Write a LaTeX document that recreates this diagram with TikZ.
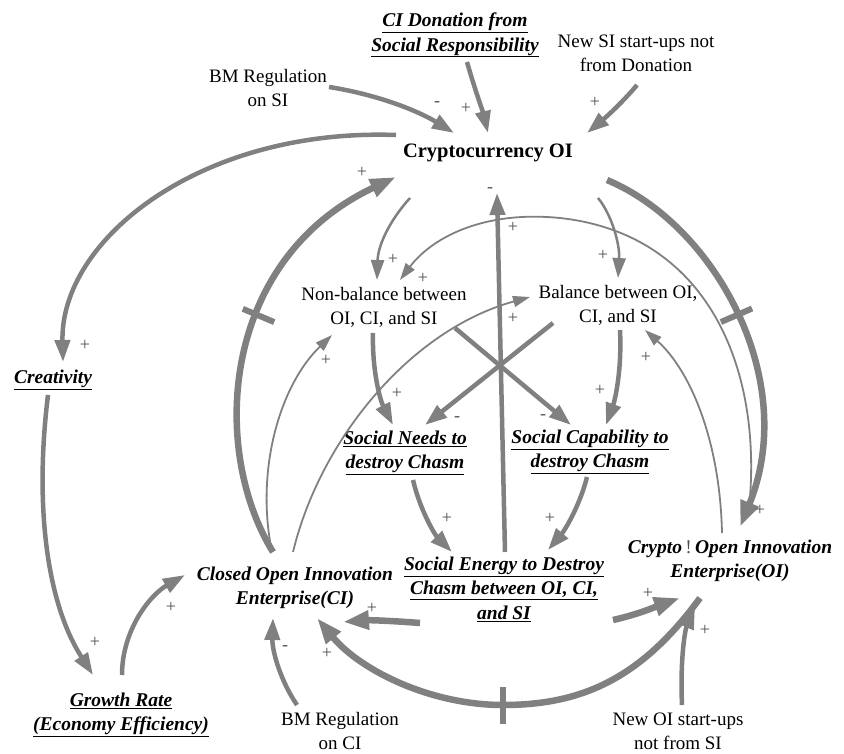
\documentclass[tikz,border=0pt]{standalone}
\usepackage{fontspec}
\setmainfont{Liberation Serif}
\usetikzlibrary{arrows.meta,calc}
\definecolor{ln}{RGB}{128,128,128}
\definecolor{lbl}{RGB}{80,80,80}
\newcommand\ulx[1]{\underline{#1}}
\begin{document}
\begin{tikzpicture}[x=1pt,y=-1pt,
 txt/.style={align=center,inner sep=0pt,text=black,font=\fontsize{19}{24}\selectfont},
 bi/.style={align=center,inner sep=0pt,text=black,font=\fontsize{19.5}{24.5}\selectfont\bfseries\itshape},
 sg/.style={font=\fontsize{18}{18}\selectfont,text=lbl,inner sep=0pt},
 con/.style={draw=ln,line cap=butt},
 thk/.style={con,line width=6.5pt,-{Triangle[length=26pt,width=18pt]}},
 med/.style={con,line width=4.5pt,-{Triangle[length=22pt,width=15pt]}},
 mth/.style={con,line width=2.5pt,-{Triangle[length=20pt,width=13pt]}},
 thn/.style={con,line width=1.8pt,-{Triangle[length=17pt,width=11pt]}},
 tick/.style={fill=ln,inner sep=0pt,minimum width=6pt,minimum height=34pt,sloped},
 tickv/.style={fill=ln,inner sep=0pt,minimum width=6pt,minimum height=37pt},
]
\useasboundingbox (0,0) rectangle (844,754);

% nodes
\node[bi] (cidon) at (455,35) {\ulx{CI Donation from}\\\ulx{Social Responsibility}};
\node[txt] (newsi) at (636,53) {New SI start-ups not\\from Donation};
\node[txt] (bmsi) at (268,88) {BM Regulation\\on SI};
\node[inner sep=0pt,font=\fontsize{20.5}{24}\selectfont\bfseries] (crypto) at (488,153) {Cryptocurrency OI};
\node[bi] (creat) at (53,380) {\ulx{Creativity}};
\node[txt] (nonbal) at (384,307) {Non-balance between\\OI, CI, and SI};
\node[txt] (bal) at (618,305) {Balance between OI,\\CI, and SI};
\node[bi] (sneeds) at (405,453) {\ulx{Social Needs to}\\\ulx{destroy Chasm}};
\node[bi] (scap) at (590,452) {\ulx{Social Capability to}\\\ulx{destroy Chasm}};
\node[bi] (senergy) at (504,589) {\ulx{Social Energy to Destroy}\\\ulx{Chasm between OI, CI,}\\\ulx{and SI}};
\node[bi] (closed) at (295,588) {Closed Open Innovation\\Enterprise(CI)};
\node[bi] (oient) at (730,561) {Crypto\,{\mdseries\upshape\color{lbl}!}\,Open Innovation\\Enterprise(OI)};
\node[bi] (growth) at (121,715) {\ulx{Growth Rate}\\\ulx{(Economy Efficiency)}};
\node[txt] (bmci) at (340,731) {BM Regulation\\on CI};
\node[txt] (newoi) at (678,731) {New OI start-ups\\not from SI};

% connectors
\draw[med] ($(bmsi)+(61,-1)$) .. controls (380,95) and (420,112) .. ($(crypto)+(-34,-20)$);
\draw[med] ($(cidon)+(12,27)$) .. controls (475,90) and (483,112) .. ($(crypto)+(0,-20)$);
\draw[med] ($(newsi)+(1,32)$) .. controls (622,103) and (605,118) .. ($(crypto)+(99,-20)$);
\draw[med] ($(crypto)+(-92,-18)$) .. controls (200,128) and (60,240) .. ($(creat)+(10,-18)$);
\draw[med] ($(creat)+(-5,15)$) .. controls (35,500) and (45,600) .. ($(growth)+(-28,-40)$);
\draw[med] ($(growth)+(1,-40)$) .. controls (122,630) and (150,595) .. ($(closed)+(-110,-13)$);
\draw[thk] ($(closed)+(-22,-36)$) .. controls (210,450) and (220,260) .. ($(crypto)+(-92,24)$) node[tick,pos=0.6] (tk1) {};
\draw[thk] ($(crypto)+(119,27)$) .. controls (715,225) and (800,380) .. ($(oient)+(10,-34)$) node[tick,pos=0.5] (tk2) {};
\draw[thn] ($(oient)+(18,-44)$) .. controls (765,380) and (715,235) .. (560,218) .. controls (480,210) and (430,240) .. ($(nonbal)+(16,-27)$);
\draw[thn] ($(oient)+(-8,-28)$) .. controls (720,440) and (690,370) .. ($(bal)+(27,25)$);
\draw[mth] ($(crypto)+(-78,45)$) .. controls (390,220) and (378,245) .. ($(nonbal)+(-7,-27)$);
\draw[mth] ($(crypto)+(110,45)$) .. controls (612,215) and (620,245) .. ($(bal)+(0,-27)$);
\draw[med] ($(senergy)+(1,-37)$) -- ($(crypto)+(9,40)$);
\draw[med] ($(nonbal)+(-11,26)$) .. controls (372,370) and (380,400) .. ($(sneeds)+(-12,-28)$);
\draw[med] ($(bal)+(2,25)$) .. controls (622,370) and (615,400) .. ($(scap)+(16,-27)$);
\draw[med] ($(nonbal)+(71,21)$) -- ($(scap)+(-19,-27)$);
\draw[med] ($(bal)+(-65,18)$) -- ($(sneeds)+(20,-28)$);
\draw[thn] ($(closed)+(-23,-36)$) .. controls (255,470) and (280,385) .. ($(nonbal)+(-52,28)$);
\draw[thn] ($(closed)+(-2,-36)$) .. controls (320,440) and (410,330) .. ($(bal)+(-88,-8)$);
\draw[med] ($(sneeds)+(8,27)$) .. controls (420,510) and (435,535) .. ($(senergy)+(-52,-37)$);
\draw[med] ($(scap)+(-3,25)$) .. controls (580,505) and (565,530) .. ($(senergy)+(44,-39)$);
\draw[thk] ($(senergy)+(-84,34)$) .. controls (395,621) and (370,620) .. ($(closed)+(48,34)$);
\draw[thk] ($(senergy)+(109,31)$) .. controls (640,614) and (660,605) .. ($(oient)+(-50,37)$);
\draw[thk] ($(oient)+(-30,37)$) .. controls (640,680) and (580,705) .. (503,705) node[tickv] (tk3) {} .. controls (430,705) and (360,670) .. ($(closed)+(22,30)$);
\draw[med] ($(bmci)+(-43,-26)$) .. controls (280,680) and (272,650) .. ($(closed)+(-22,30)$);
\draw[med] ($(newoi)+(4,-26)$) .. controls (680,660) and (685,630) .. ($(oient)+(-35,46)$);

% polarity labels
\node[sg] (s1) at (437,104) {-};
\node[sg] (s2) at (466,108) {+};
\node[sg] (s3) at (595,102) {+};
\node[sg] (s4) at (362,172) {+};
\node[sg] (s5) at (490,190) {-};
\node[sg] (s6) at (85,345) {+};
\node[sg] (s7) at (393,259) {+};
\node[sg] (s8) at (423,278) {+};
\node[sg] (s9) at (513,227) {+};
\node[sg] (s10) at (603,255) {+};
\node[sg] (s11) at (513,318) {+};
\node[sg] (s12) at (326,360) {+};
\node[sg] (s13) at (397,393) {+};
\node[sg] (s14) at (457,419) {-};
\node[sg] (s15) at (543,417) {-};
\node[sg] (s16) at (600,390) {+};
\node[sg] (s17) at (646,357) {+};
\node[sg] (s18) at (447,518) {+};
\node[sg] (s19) at (550,518) {+};
\node[sg] (s20) at (760,510) {+};
\node[sg] (s21) at (648,593) {+};
\node[sg] (s22) at (372,608) {+};
\node[sg] (s23) at (705,630) {+};
\node[sg] (s24) at (327,653) {+};
\node[sg] (s25) at (285,648) {-};
\node[sg] (s26) at (171,607) {+};
\node[sg] (s27) at (95,642) {+};
\end{tikzpicture}
\end{document}
